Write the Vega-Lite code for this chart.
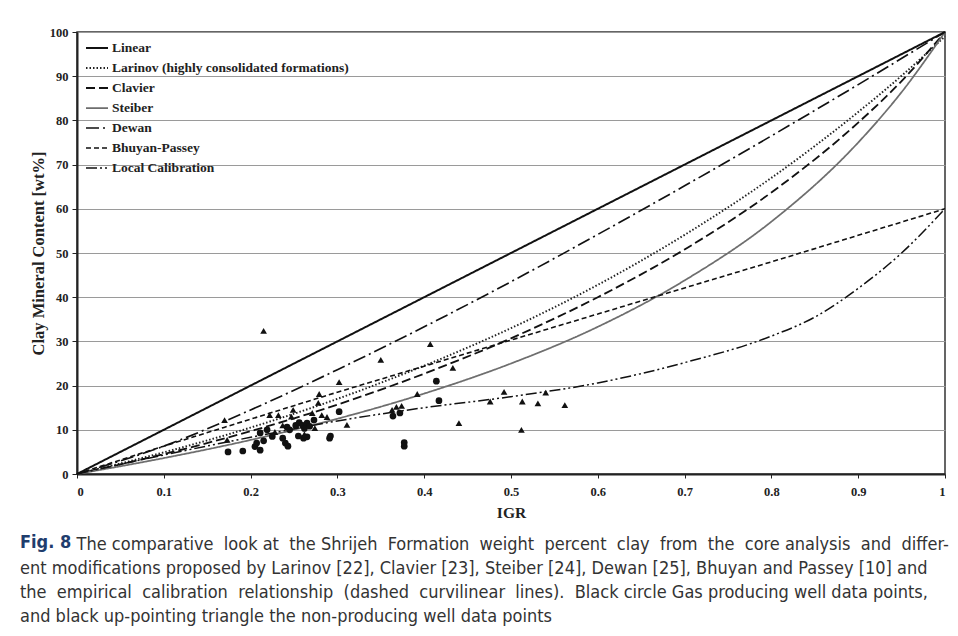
{
  "$schema": "https://vega.github.io/schema/vega-lite/v6.json",
  "width": 868,
  "height": 442,
  "autosize": {"type": "none"},
  "padding": {"left": 77, "top": 32, "right": 13, "bottom": 162},
  "background": "white",
  "config": {
    "view": {"stroke": "#333", "strokeWidth": 1.5},
    "font": "Liberation Serif"
  },
  "title": {
    "text": "Fig. 8",
    "subtitle": [
      "\u200b\u00a0\u00a0\u00a0\u00a0\u00a0\u00a0\u00a0\u00a0\u00a0\u00a0\u00a0The comparative \u00a0look at \u00a0the Shrijeh \u00a0Formation \u00a0weight \u00a0percent \u00a0clay \u00a0from \u00a0the \u00a0core analysis \u00a0and \u00a0differ-",
      "ent modifications proposed by Larinov [22], Clavier [23], Steiber [24], Dewan [25], Bhuyan and Passey [10] and",
      "the \u00a0empirical \u00a0calibration \u00a0relationship \u00a0(dashed \u00a0curvilinear \u00a0lines). \u00a0Black circle Gas producing well data points,",
      "and black up-pointing triangle the non-producing well data points"
    ],
    "orient": "bottom",
    "anchor": "start",
    "frame": "group",
    "dx": -57,
    "offset": 13,
    "font": "Liberation Sans Narrow, DejaVu Sans Condensed, sans-serif",
    "fontSize": 18,
    "fontWeight": "bold",
    "color": "#1f3d6d",
    "subtitleFont": "Liberation Sans Narrow, DejaVu Sans Condensed, sans-serif",
    "subtitleFontSize": 18,
    "subtitleColor": "#333333",
    "subtitleLineHeight": 24,
    "subtitlePadding": -16
  },
  "datasets": {
    "curves": [
      {"series": "Linear", "igr": 0, "clay": 0},
      {"series": "Linear", "igr": 1, "clay": 100},
      {"series": "Larinov (highly consolidated formations)", "igr": 0, "clay": 0},
      {"series": "Larinov (highly consolidated formations)", "igr": 0.1, "clay": 4.9},
      {"series": "Larinov (highly consolidated formations)", "igr": 0.2, "clay": 10.5},
      {"series": "Larinov (highly consolidated formations)", "igr": 0.3, "clay": 17.0},
      {"series": "Larinov (highly consolidated formations)", "igr": 0.4, "clay": 24.5},
      {"series": "Larinov (highly consolidated formations)", "igr": 0.5, "clay": 33.0},
      {"series": "Larinov (highly consolidated formations)", "igr": 0.6, "clay": 42.8},
      {"series": "Larinov (highly consolidated formations)", "igr": 0.7, "clay": 54.1},
      {"series": "Larinov (highly consolidated formations)", "igr": 0.8, "clay": 67.0},
      {"series": "Larinov (highly consolidated formations)", "igr": 0.9, "clay": 81.9},
      {"series": "Larinov (highly consolidated formations)", "igr": 0.95, "clay": 90.1},
      {"series": "Larinov (highly consolidated formations)", "igr": 1, "clay": 99.0},
      {"series": "Clavier", "igr": 0, "clay": 0},
      {"series": "Clavier", "igr": 0.1, "clay": 4.5},
      {"series": "Clavier", "igr": 0.2, "clay": 9.7},
      {"series": "Clavier", "igr": 0.3, "clay": 15.7},
      {"series": "Clavier", "igr": 0.4, "clay": 22.7},
      {"series": "Clavier", "igr": 0.5, "clay": 30.7},
      {"series": "Clavier", "igr": 0.6, "clay": 40.0},
      {"series": "Clavier", "igr": 0.7, "clay": 50.8},
      {"series": "Clavier", "igr": 0.8, "clay": 63.7},
      {"series": "Clavier", "igr": 0.9, "clay": 79.5},
      {"series": "Clavier", "igr": 0.95, "clay": 88.9},
      {"series": "Clavier", "igr": 1, "clay": 100},
      {"series": "Steiber", "igr": 0, "clay": 0},
      {"series": "Steiber", "igr": 0.1, "clay": 3.6},
      {"series": "Steiber", "igr": 0.2, "clay": 7.7},
      {"series": "Steiber", "igr": 0.3, "clay": 12.5},
      {"series": "Steiber", "igr": 0.4, "clay": 18.2},
      {"series": "Steiber", "igr": 0.5, "clay": 25.0},
      {"series": "Steiber", "igr": 0.6, "clay": 33.3},
      {"series": "Steiber", "igr": 0.7, "clay": 43.8},
      {"series": "Steiber", "igr": 0.8, "clay": 57.1},
      {"series": "Steiber", "igr": 0.9, "clay": 75.0},
      {"series": "Steiber", "igr": 0.95, "clay": 86.4},
      {"series": "Steiber", "igr": 1, "clay": 100},
      {"series": "Dewan", "igr": 0, "clay": 0},
      {"series": "Dewan", "igr": 0.1, "clay": 6.3},
      {"series": "Dewan", "igr": 0.2, "clay": 14.5},
      {"series": "Dewan", "igr": 0.3, "clay": 23.6},
      {"series": "Dewan", "igr": 0.4, "clay": 33.3},
      {"series": "Dewan", "igr": 0.5, "clay": 43.5},
      {"series": "Dewan", "igr": 0.6, "clay": 54.2},
      {"series": "Dewan", "igr": 0.7, "clay": 65.2},
      {"series": "Dewan", "igr": 0.8, "clay": 76.5},
      {"series": "Dewan", "igr": 0.9, "clay": 88.1},
      {"series": "Dewan", "igr": 1, "clay": 100},
      {"series": "Bhuyan-Passey", "igr": 0, "clay": 0},
      {"series": "Bhuyan-Passey", "igr": 0.1, "clay": 6.3},
      {"series": "Bhuyan-Passey", "igr": 0.2, "clay": 12.4},
      {"series": "Bhuyan-Passey", "igr": 0.3, "clay": 18.5},
      {"series": "Bhuyan-Passey", "igr": 0.4, "clay": 24.4},
      {"series": "Bhuyan-Passey", "igr": 0.5, "clay": 30.3},
      {"series": "Bhuyan-Passey", "igr": 0.6, "clay": 36.2},
      {"series": "Bhuyan-Passey", "igr": 0.7, "clay": 42.1},
      {"series": "Bhuyan-Passey", "igr": 0.8, "clay": 48.0},
      {"series": "Bhuyan-Passey", "igr": 0.9, "clay": 54.0},
      {"series": "Bhuyan-Passey", "igr": 1, "clay": 60.0},
      {"series": "Local Calibration", "igr": 0, "clay": 0},
      {"series": "Local Calibration", "igr": 0.1, "clay": 4.3},
      {"series": "Local Calibration", "igr": 0.2, "clay": 8.3},
      {"series": "Local Calibration", "igr": 0.3, "clay": 12.0},
      {"series": "Local Calibration", "igr": 0.4, "clay": 15.0},
      {"series": "Local Calibration", "igr": 0.5, "clay": 17.5},
      {"series": "Local Calibration", "igr": 0.6, "clay": 20.6},
      {"series": "Local Calibration", "igr": 0.7, "clay": 25.2},
      {"series": "Local Calibration", "igr": 0.8, "clay": 31.2},
      {"series": "Local Calibration", "igr": 0.85, "clay": 35.5},
      {"series": "Local Calibration", "igr": 0.9, "clay": 42.0},
      {"series": "Local Calibration", "igr": 0.95, "clay": 50.0},
      {"series": "Local Calibration", "igr": 1, "clay": 60.0}
    ],
    "points": [
      {"well": "gas", "igr": 0.174, "clay": 5.0},
      {"well": "gas", "igr": 0.191, "clay": 5.2},
      {"well": "gas", "igr": 0.205, "clay": 6.2},
      {"well": "gas", "igr": 0.211, "clay": 5.4},
      {"well": "gas", "igr": 0.207, "clay": 7.0},
      {"well": "gas", "igr": 0.215, "clay": 7.5},
      {"well": "gas", "igr": 0.211, "clay": 9.3},
      {"well": "gas", "igr": 0.219, "clay": 10.0},
      {"well": "gas", "igr": 0.225, "clay": 8.5},
      {"well": "gas", "igr": 0.240, "clay": 7.0},
      {"well": "gas", "igr": 0.243, "clay": 6.3},
      {"well": "gas", "igr": 0.237, "clay": 8.1},
      {"well": "gas", "igr": 0.245, "clay": 10.0},
      {"well": "gas", "igr": 0.242, "clay": 10.6},
      {"well": "gas", "igr": 0.252, "clay": 11.0},
      {"well": "gas", "igr": 0.256, "clay": 11.6},
      {"well": "gas", "igr": 0.260, "clay": 11.0},
      {"well": "gas", "igr": 0.265, "clay": 11.5},
      {"well": "gas", "igr": 0.262, "clay": 10.3},
      {"well": "gas", "igr": 0.268, "clay": 10.8},
      {"well": "gas", "igr": 0.261, "clay": 8.1},
      {"well": "gas", "igr": 0.265, "clay": 8.4},
      {"well": "gas", "igr": 0.255, "clay": 8.6},
      {"well": "gas", "igr": 0.273, "clay": 12.2},
      {"well": "gas", "igr": 0.291, "clay": 8.1},
      {"well": "gas", "igr": 0.292, "clay": 8.6},
      {"well": "gas", "igr": 0.302, "clay": 14.1},
      {"well": "gas", "igr": 0.364, "clay": 13.1},
      {"well": "gas", "igr": 0.372, "clay": 13.8},
      {"well": "gas", "igr": 0.377, "clay": 7.1},
      {"well": "gas", "igr": 0.377, "clay": 6.3},
      {"well": "gas", "igr": 0.414, "clay": 21.0},
      {"well": "gas", "igr": 0.417, "clay": 16.6},
      {"well": "non", "igr": 0.170, "clay": 12.2},
      {"well": "non", "igr": 0.173, "clay": 7.7},
      {"well": "non", "igr": 0.215, "clay": 32.4},
      {"well": "non", "igr": 0.222, "clay": 13.3},
      {"well": "non", "igr": 0.232, "clay": 13.3},
      {"well": "non", "igr": 0.228, "clay": 9.5},
      {"well": "non", "igr": 0.237, "clay": 11.0},
      {"well": "non", "igr": 0.247, "clay": 13.0},
      {"well": "non", "igr": 0.249, "clay": 14.5},
      {"well": "non", "igr": 0.262, "clay": 9.0},
      {"well": "non", "igr": 0.271, "clay": 13.8},
      {"well": "non", "igr": 0.274, "clay": 10.4},
      {"well": "non", "igr": 0.278, "clay": 16.1},
      {"well": "non", "igr": 0.279, "clay": 18.1},
      {"well": "non", "igr": 0.282, "clay": 13.3},
      {"well": "non", "igr": 0.288, "clay": 12.9},
      {"well": "non", "igr": 0.302, "clay": 20.8},
      {"well": "non", "igr": 0.311, "clay": 11.1},
      {"well": "non", "igr": 0.350, "clay": 25.8},
      {"well": "non", "igr": 0.363, "clay": 14.5},
      {"well": "non", "igr": 0.368, "clay": 15.2},
      {"well": "non", "igr": 0.374, "clay": 15.4},
      {"well": "non", "igr": 0.392, "clay": 18.1},
      {"well": "non", "igr": 0.407, "clay": 29.4},
      {"well": "non", "igr": 0.433, "clay": 24.0},
      {"well": "non", "igr": 0.440, "clay": 11.5},
      {"well": "non", "igr": 0.476, "clay": 16.4},
      {"well": "non", "igr": 0.492, "clay": 18.6},
      {"well": "non", "igr": 0.512, "clay": 10.0},
      {"well": "non", "igr": 0.513, "clay": 16.4},
      {"well": "non", "igr": 0.531, "clay": 16.0},
      {"well": "non", "igr": 0.540, "clay": 18.4},
      {"well": "non", "igr": 0.562, "clay": 15.6}
    ]
  },
  "layer": [
    {
      "data": {"name": "curves"},
      "mark": {"type": "line", "interpolate": "monotone", "strokeCap": "butt"},
      "encoding": {
        "x": {
          "field": "igr", "type": "quantitative",
          "scale": {"domain": [0, 1], "nice": false},
          "axis": {
            "title": "IGR", "titleFont": "Liberation Serif", "titleFontSize": 15.5, "titleFontWeight": "bold", "titleColor": "#222",
            "titlePadding": 8,
            "values": [0, 0.1, 0.2, 0.3, 0.4, 0.5, 0.6, 0.7, 0.8, 0.9, 1],
            "format": "~g", "labelFont": "Liberation Serif", "labelFontSize": 12.5, "labelFontWeight": "bold", "labelColor": "#222",
            "labelPadding": 7, "tickSize": 4, "tickColor": "#222", "domainColor": "#222", "domainWidth": 2, "grid": false
          }
        },
        "y": {
          "field": "clay", "type": "quantitative",
          "scale": {"domain": [0, 100], "nice": false},
          "axis": {
            "title": "Clay Mineral Content [wt%]", "titleFont": "Liberation Serif", "titleFontSize": 16.5, "titleFontWeight": "bold", "titleColor": "#222",
            "titlePadding": 3,
            "values": [0, 10, 20, 30, 40, 50, 60, 70, 80, 90, 100],
            "labelFont": "Liberation Serif", "labelFontSize": 12.5, "labelFontWeight": "bold", "labelColor": "#222",
            "labelPadding": 4, "tickSize": 5, "tickColor": "#222", "domainColor": "#222", "domainWidth": 2,
            "grid": true, "gridColor": "#9a9a9a", "gridWidth": 1
          }
        },
        "detail": {"field": "series"},
        "color": {
          "field": "series", "type": "nominal",
          "scale": {
            "domain": ["Linear", "Larinov (highly consolidated formations)", "Clavier", "Steiber", "Dewan", "Bhuyan-Passey", "Local Calibration"],
            "range": ["#111111", "#222222", "#111111", "#6e6e6e", "#111111", "#111111", "#111111"]
          },
          "legend": {
            "title": null, "orient": "none", "legendX": 8, "legendY": 4, "padding": 0,
            "labelFont": "Liberation Serif", "labelFontSize": 13.5, "labelFontWeight": "bold", "labelColor": "#222",
            "labelOffset": 3, "labelLimit": 0, "symbolType": "stroke", "symbolSize": 484, "rowPadding": 1
          }
        },
        "strokeDash": {
          "field": "series", "type": "nominal",
          "scale": {
            "domain": ["Linear", "Larinov (highly consolidated formations)", "Clavier", "Steiber", "Dewan", "Bhuyan-Passey", "Local Calibration"],
            "range": [[1, 0], [1.5, 2], [9, 4], [1, 0], [13, 4, 2, 4], [5, 3], [11, 3, 2, 3, 2, 3]]
          },
          "legend": {"title": null}
        },
        "strokeWidth": {
          "field": "series", "type": "nominal",
          "scale": {
            "domain": ["Linear", "Larinov (highly consolidated formations)", "Clavier", "Steiber", "Dewan", "Bhuyan-Passey", "Local Calibration"],
            "range": [2, 1.5, 2, 2, 2, 2, 2]
          },
          "legend": {"title": null}
        }
      }
    },
    {
      "data": {"name": "points"},
      "mark": {"type": "point", "filled": true, "opacity": 1, "color": "#111111"},
      "encoding": {
        "x": {"field": "igr", "type": "quantitative"},
        "y": {"field": "clay", "type": "quantitative"},
        "shape": {
          "field": "well", "type": "nominal",
          "scale": {"domain": ["gas", "non"], "range": ["circle", "triangle-up"]},
          "legend": null
        },
        "size": {"value": 45}
      }
    }
  ]
}
